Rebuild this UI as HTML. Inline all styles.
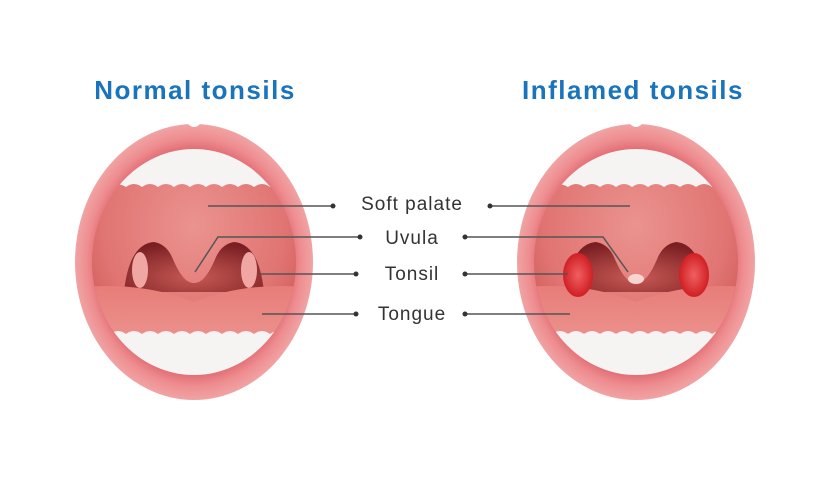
<!DOCTYPE html>
<html><head><style>
html,body{margin:0;padding:0;background:#fff;}
body{width:823px;height:494px;overflow:hidden;}
text{font-family:"Liberation Sans",sans-serif;}
</style></head><body>
<svg width="823" height="494" viewBox="0 0 823 494" xmlns="http://www.w3.org/2000/svg">
<defs>
<radialGradient id="lip" cx="50%" cy="50%" r="50%">
<stop offset="0.82" stop-color="#e26f76"/><stop offset="0.9" stop-color="#ee8d90"/><stop offset="1" stop-color="#f1a3a4"/>
</radialGradient>
<radialGradient id="pal" cx="50%" cy="35%" r="60%">
<stop offset="0" stop-color="#eb938f"/><stop offset="0.7" stop-color="#e07472"/><stop offset="1" stop-color="#cc5855"/>
</radialGradient>
<linearGradient id="tng" x1="0" y1="0" x2="0" y2="1">
<stop offset="0" stop-color="#e77d79"/><stop offset="1" stop-color="#f0a29c"/>
</linearGradient>
<radialGradient id="thr" cx="50%" cy="70%" r="70%">
<stop offset="0" stop-color="#c75a55"/><stop offset="1" stop-color="#7a1e22"/>
</radialGradient>
<radialGradient id="inf" cx="50%" cy="50%" r="50%">
<stop offset="0" stop-color="#f06060"/><stop offset="1" stop-color="#d01f24"/>
</radialGradient>
<clipPath id="ic"><ellipse cx="0" cy="0" rx="102" ry="113"/></clipPath>
<g id="mouth">
<ellipse cx="0" cy="0" rx="119" ry="138" fill="url(#lip)"/>
<path d="M-6,-138 Q0,-132 6,-138 Z" fill="#fff"/>
<g clip-path="url(#ic)">
<rect x="-110" y="-120" width="220" height="240" fill="url(#pal)"/>
<path d="M-78,-120 H78 V-82 Q78,-78 76,-75 q-8,-6 -16,0 q-8,-6 -16,0 q-8,-6 -16,0 q-8,-6 -16,0 q-8,-6 -16,0 q-8,-6 -16,0 q-8,-6 -16,0 q-8,-6 -16,0 q-8,-6 -16,0 q-8,-5 -16,0 Q-78,-78 -78,-82 Z" fill="#f6f4f3"/>
<path d="M-70,30 Q-65,-18 -40,-20 Q-28,-18 -22,-5 Q-15,12 -8,18 Q0,24 8,18 Q15,12 22,-5 Q28,-18 40,-20 Q65,-18 70,30 Z" fill="url(#thr)"/>
<path d="M-110,25 Q-50,20 0,40 Q50,20 110,25 V120 H-110 Z" fill="url(#tng)"/>
<path d="M-110,120 H110 V72 Q100,70 92,72 q-8,-6 -16,0 q-8,-6 -16,0 q-8,-6 -16,0 q-8,-6 -16,0 q-8,-6 -16,0 q-8,-6 -16,0 q-8,-6 -16,0 q-8,-6 -16,0 q-8,-6 -16,0 q-8,-6 -16,0 q-8,-6 -16,0 q-8,-6 -16,0 Q-100,70 -110,72 Z" fill="#f6f4f3"/>
</g>
</g>
</defs>

<text x="195" y="99" text-anchor="middle" font-size="26" font-weight="bold" letter-spacing="1.5" fill="#1a74bb">Normal tonsils</text>
<text x="633" y="99" text-anchor="middle" font-size="26" font-weight="bold" letter-spacing="1.5" fill="#1a74bb">Inflamed tonsils</text>

<use href="#mouth" x="194" y="262"/>
<use href="#mouth" x="636" y="262"/>
<ellipse cx="140" cy="270" rx="8" ry="18" fill="#f0a6a2"/>
<ellipse cx="249" cy="270" rx="8" ry="18" fill="#f0a6a2"/>
<ellipse cx="578" cy="275" rx="15" ry="22" fill="url(#inf)"/>
<ellipse cx="694" cy="275" rx="15" ry="22" fill="url(#inf)"/>
<ellipse cx="636" cy="279" rx="8" ry="5" fill="#f7d6d2"/>

<g stroke="#555" stroke-width="1.5" fill="none">
<line x1="208" y1="206" x2="333" y2="206"/>
<polyline points="195,272 218,237 360,237"/>
<line x1="260" y1="274" x2="356" y2="274"/>
<line x1="262" y1="314" x2="356" y2="314"/>
<line x1="490" y1="206" x2="630" y2="206"/>
<polyline points="465,237 603,237 628,272"/>
<line x1="465" y1="274" x2="568" y2="274"/>
<line x1="465" y1="314" x2="570" y2="314"/>
</g>
<g fill="#333">
<circle cx="333" cy="206" r="2.5"/><circle cx="360" cy="237" r="2.5"/><circle cx="356" cy="274" r="2.5"/><circle cx="356" cy="314" r="2.5"/>
<circle cx="490" cy="206" r="2.5"/><circle cx="465" cy="237" r="2.5"/><circle cx="465" cy="274" r="2.5"/><circle cx="465" cy="314" r="2.5"/>
</g>
<g font-size="19" fill="#333" text-anchor="middle" letter-spacing="1">
<text x="412" y="210">Soft palate</text>
<text x="412" y="244">Uvula</text>
<text x="412" y="280">Tonsil</text>
<text x="412" y="320">Tongue</text>
</g>
</svg>
</body></html>
